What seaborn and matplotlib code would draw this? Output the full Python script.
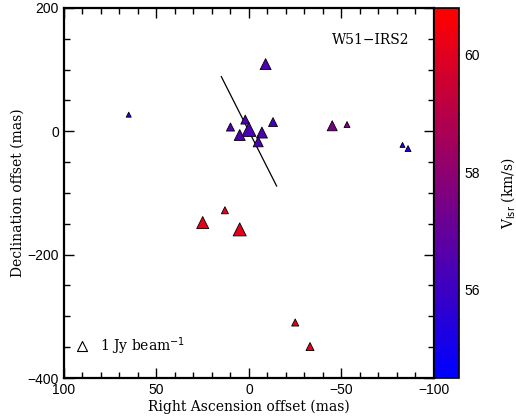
import matplotlib
matplotlib.use('Agg')
import matplotlib.pyplot as plt
import matplotlib.colors as mcolors
import numpy as np
import pandas as pd
import seaborn as sns

# Maser spots (offsets in mas, velocity in km/s, flux in Jy/beam)
ra_offset = [65, -9, 2, 10, 0, 5, -7, -5, -13, -45, -53, -83, -86, 13, 25, 5, -25, -33]
dec_offset = [27, 109, 19, 7, 3, -6, -2, -17, 15, 9, 11, -22, -28, -128, -148, -159, -310, -349]
vlsr = [55.6, 56.4, 56.4, 56.6, 56.3, 56.4, 56.4, 56.3, 56.2, 57.5, 57.6, 55.5, 55.3,
        60.2, 60.2, 60.1, 60.2, 60.2]
flux = [0.25, 1.2, 0.8, 0.65, 1.95, 1.2, 1.2, 1.0, 0.8, 1.0, 0.35, 0.25, 0.35,
        0.5, 1.45, 1.7, 0.5, 0.65]

# Outflow / disk axis
line_ra = [15, -15]
line_dec = [89, -89]

vmin, vmax = 54.5, 60.8
flux_max = 2.0

df = pd.DataFrame({'ra': ra_offset, 'dec': dec_offset, 'vlsr': vlsr, 'flux': flux})

cmap = mcolors.LinearSegmentedColormap.from_list('br', [(0, 0, 1), (1, 0, 0)], N=64)
norm = mcolors.Normalize(vmin=vmin, vmax=vmax)

sns.set_style('ticks')
plt.rcParams.update({'text.color': 'black', 'axes.labelcolor': 'black',
                     'xtick.color': 'black', 'ytick.color': 'black',
                     'axes.edgecolor': 'black'})
serif = ['DejaVu Serif']
sans = ['Liberation Sans', 'DejaVu Sans']

fig = plt.figure(figsize=(5.16, 4.2), dpi=100)
ax = fig.add_axes([0.124, 0.1, 0.717, 0.881])
cax = fig.add_axes([0.841, 0.1, 0.049, 0.881])

ax.plot(line_ra, line_dec, color='black', lw=0.9, zorder=1)

# s area for width ~10 px at 1 Jy
s_per_jy = 52
sns.scatterplot(data=df, x='ra', y='dec', hue='vlsr', size='flux', palette=cmap,
                hue_norm=norm, sizes=(0, s_per_jy * flux_max), size_norm=(0, flux_max),
                marker='^', edgecolor='black', linewidth=0.6, legend=False, ax=ax, zorder=2)

ax.set_xlim(100, -100)
ax.set_ylim(-400, 200)
ax.set_xticks([100, 50, 0, -50, -100])
ax.set_xticks(np.arange(-100, 101, 10), minor=True)
ax.set_yticks([200, 0, -200, -400])
ax.set_yticks(np.arange(-400, 201, 50), minor=True)
ax.set_xticklabels(['100', '50', '0', '\u221250', '\u2212100'], family=sans, fontsize=10)
ax.set_yticklabels(['200', '0', '\u2212200', '\u2212400'], family=sans, fontsize=10)
ax.tick_params(which='both', direction='in', top=True, right=True, width=1)
ax.tick_params(which='major', length=7)
ax.tick_params(which='minor', length=4)
for sp in ax.spines.values():
    sp.set_linewidth(1.6)
ax.set_xlabel('Right Ascension offset (mas)', family=serif, fontsize=10, labelpad=2)
ax.set_ylabel('Declination offset (mas)', family=serif, fontsize=10, labelpad=2)
ax.text(0.83, 0.913, 'W51\u2212IRS2', transform=ax.transAxes, family=serif, fontsize=10,
        ha='center', va='center')

# 1 Jy legend glyph
ax.scatter([0.05], [0.086], transform=ax.transAxes, marker='^', s=s_per_jy,
           facecolor='white', edgecolor='black', linewidth=0.8)
ax.text(0.097, 0.086, '1 Jy beam$^{-1}$', transform=ax.transAxes, family=serif,
        fontsize=10, va='center')

# colour bar
sm = plt.cm.ScalarMappable(norm=norm, cmap=cmap)
cb = fig.colorbar(sm, cax=cax)
cb.outline.set_linewidth(1.2)
cb.set_ticks([56, 58, 60])
cb.ax.set_yticks(np.arange(55, 61, 0.5), minor=True)
cb.ax.tick_params(which='both', direction='in', width=1, labelsize=10)
cb.ax.tick_params(which='major', length=7)
cb.ax.tick_params(which='minor', length=4)
for lab in cb.ax.get_yticklabels():
    lab.set_family(sans)
cb.set_label('V$_{\\rm lsr}$ (km/s)', family=serif, fontsize=10, labelpad=14)

fig.savefig('out.png', dpi=100)
